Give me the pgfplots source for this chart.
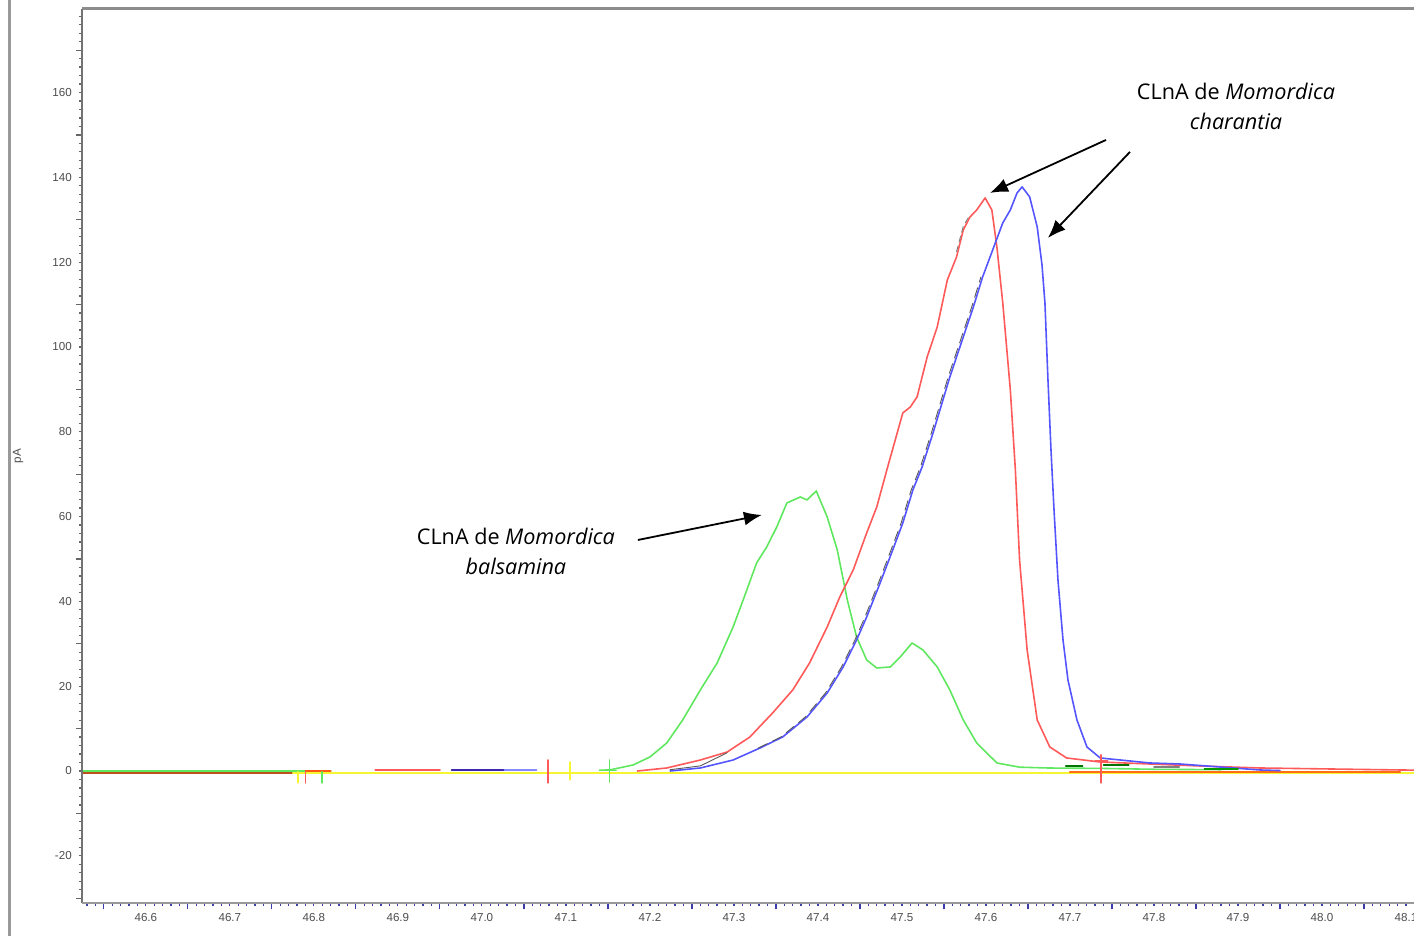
\documentclass[border=0pt]{standalone}
\usepackage{fontspec}
\setmainfont{Open Sans}
\newfontfamily\tickfont{Liberation Sans}
\usepackage{pgfplots}
\pgfplotsset{compat=1.18}
\usetikzlibrary{arrows.meta}
\definecolor{cgreen}{RGB}{95,232,95}
\definecolor{cred}{RGB}{255,90,90}
\definecolor{cblue}{RGB}{85,85,255}
\definecolor{cdblue}{RGB}{60,40,170}
\definecolor{cyellow}{RGB}{245,245,50}
\definecolor{corange}{RGB}{255,110,20}
\definecolor{cbrown}{RGB}{190,80,30}
\definecolor{tickblue}{RGB}{60,60,170}
\begin{document}
\begin{tikzpicture}
\begin{axis}[
 scale only axis, width=666pt, height=447pt,
 xmin=46.524, xmax=48.1095, ymin=-31.13, ymax=179.7,
 axis line style={draw=none},
 clip mode=individual,
 no markers,
 every axis plot/.append style={line join=round, line cap=round},
 tick align=outside,
 xtick pos=lower, ytick pos=left,
 xtick={46.6,46.7,46.8,46.9,47.0,47.1,47.2,47.3,47.4,47.5,47.6,47.7,47.8,47.9,48.0,48.1},
 ytick={-20,0,20,40,60,80,100,120,140,160},
 minor xtick={46.53,46.54,...,48.11},
 minor ytick={-30,-28,...,178},
 extra x ticks={46.55,46.65,46.75,46.85,46.95,47.05,47.15,47.25,47.35,47.45,47.55,47.65,47.75,47.85,47.95,48.05},
 extra x tick labels={},
 extra y ticks={-30,-10,10,30,50,70,90,110,130,150,170},
 extra y tick labels={},
 extra x tick style={major tick length=3.2pt},
 extra y tick style={major tick length=3.2pt},
 major tick length=1.6pt, minor tick length=1.6pt,
 x tick style={tickblue, line width=0.6pt},
 y tick style={black!60, line width=0.6pt},
 xticklabel style={/pgf/number format/.cd, fixed, fixed zerofill, precision=1},
 ticklabel style={font=\tickfont\fontsize{5.8}{6}\selectfont, text=black!70},
 /pgf/number format/assume math mode=true,
]
% baselines
\addplot[cbrown, line width=0.9pt] coordinates {(46.524,-0.5) (46.82,-0.5)};
\addplot[cgreen, line width=0.9pt] coordinates {(46.524,0.05) (46.82,0.05)};
\addplot[corange!80!red, line width=0.9pt] coordinates {(46.79,0.0) (46.82,0.0)};
\addplot[cyellow, line width=0.9pt] coordinates {(46.775,-0.4) (48.1095,-0.4)};
\addplot[corange, line width=1pt] coordinates {(47.70,-0.3) (48.093,-0.3)};
\addplot[cred, line width=0.9pt] coordinates {(46.873,0.3) (46.950,0.3)};
\addplot[cdblue, line width=0.9pt] coordinates {(46.964,0.3) (47.027,0.3)};
\addplot[cblue!70, line width=0.9pt] coordinates {(47.027,0.2) (47.065,0.2)};
% integration markers
\addplot[cyellow, line width=0.8pt] coordinates {(46.781,-0.2) (46.781,-2.8)};
\addplot[cred, line width=0.8pt] coordinates {(46.790,-0.2) (46.790,-2.8)};
\addplot[cgreen, line width=0.8pt] coordinates {(46.810,-0.2) (46.810,-2.8)};
\addplot[cred, line width=0.8pt] coordinates {(47.0786,2.6) (47.0786,-2.8)};
\addplot[cyellow, line width=0.8pt] coordinates {(47.105,2.1) (47.105,-2.1)};
\addplot[cgreen, line width=0.8pt] coordinates {(47.152,2.6) (47.152,-2.6)};
\addplot[cgreen, line width=0.8pt] coordinates {(47.140,0.1) (47.160,0.1)};
% green: M. balsamina
\addplot[cgreen, line width=0.8pt] coordinates {
(47.140,0.2) (47.152,0.24) (47.180,1.42) (47.200,3.30) (47.220,6.60) (47.239,12.03)
(47.260,19.10) (47.280,25.47) (47.299,33.96) (47.311,40.33) (47.327,49.06) (47.339,52.83)
(47.351,57.55) (47.363,63.21) (47.379,64.62) (47.387,63.92) (47.398,66.04) (47.411,59.91)
(47.423,52.12) (47.435,40.33) (47.446,31.60) (47.458,26.18) (47.470,24.29) (47.486,24.53)
(47.498,26.89) (47.512,30.19) (47.525,28.54) (47.542,24.53) (47.557,19.10) (47.573,12.03)
(47.589,6.60) (47.613,1.89) (47.640,0.9) (47.676,0.7) (47.74,0.6) (47.80,0.4) (47.88,0.3)};
% red
\addplot[cred, line width=0.8pt] coordinates {
(47.185,0) (47.220,0.71) (47.260,2.59) (47.292,4.48) (47.319,8.02) (47.346,13.68)
(47.370,19.10) (47.390,25.47) (47.411,33.96) (47.426,41.04) (47.442,47.41) (47.458,56.13)
(47.470,62.26) (47.482,70.99) (47.501,84.43) (47.510,85.85) (47.518,88.21) (47.530,97.64)
(47.542,104.72) (47.554,115.80) (47.565,121.23) (47.573,127.59) (47.581,130.66) (47.589,132.31)
(47.599,135.14) (47.607,132.31) (47.613,123.58) (47.620,110.38) (47.629,89.86) (47.635,70.99)
(47.640,49.76) (47.649,28.54) (47.661,12.03) (47.676,5.66) (47.696,3.07) (47.736,2.12)
(47.795,1.65) (47.855,1.18) (47.926,0.71) (48.093,0.24) (48.11,0.2)};
% blue
\addplot[cblue, line width=0.8pt] coordinates {
(47.224,0) (47.260,0.71) (47.299,2.59) (47.331,5.42) (47.358,8.02) (47.387,12.74)
(47.411,18.40) (47.430,24.53) (47.446,30.90) (47.458,36.32) (47.474,44.34) (47.489,52.12)
(47.501,58.49) (47.513,66.27) (47.524,71.70) (47.537,79.72) (47.557,92.92) (47.569,100.0)
(47.585,109.43) (47.596,116.51) (47.608,122.88) (47.620,129.25) (47.629,132.31) (47.637,136.32)
(47.643,137.74) (47.652,135.38) (47.661,128.30) (47.6667,119.34) (47.6702,110.38) (47.6738,92.22)
(47.6774,75.71) (47.681,61.56) (47.6857,45.05) (47.6917,30.90) (47.6976,21.46) (47.7083,12.03)
(47.7202,5.66) (47.736,3.07) (47.795,1.89) (47.831,1.65) (47.879,0.94) (47.926,0.24) (47.95,0.1)};
% dark integration overlays
\addplot[black!65, line width=0.45pt, dash pattern=on 5pt off 3pt] coordinates {
(47.329,5.42) (47.356,8.02) (47.385,12.74) (47.409,18.40) (47.428,24.53) (47.444,30.90)
(47.456,36.32) (47.472,44.34) (47.487,52.12) (47.499,58.49) (47.511,66.27) (47.522,71.70)
(47.535,79.72) (47.555,92.92) (47.567,100.0) (47.583,109.43) (47.594,116.51)};
\addplot[black!65, line width=0.45pt] coordinates {(47.224,0.3) (47.260,1.2) (47.292,4.3)};
\addplot[black!50, line width=0.45pt, dash pattern=on 3pt off 2pt] coordinates {(47.565,122.5) (47.573,128.5) (47.579,130.5)};
\addplot[cred, line width=0.8pt] coordinates {(47.737,3.8) (47.737,-2.8)};
\addplot[cred, line width=0.8pt] coordinates {(47.730,2.3) (47.745,2.3)};
\addplot[green!45!black, line width=0.8pt] coordinates {(47.695,1.2) (47.715,1.2)};
\addplot[green!45!black, line width=0.8pt] coordinates {(47.74,1.4) (47.77,1.4)};
\addplot[black!50, line width=0.8pt] coordinates {(47.80,0.9) (47.83,0.9)};
\addplot[green!60!black, line width=0.8pt] coordinates {(47.86,0.4) (47.90,0.4)};
% frame
\draw[black!45, line width=1.5pt] (rel axis cs:0,1) -- (rel axis cs:1,1);
\draw[black!55, line width=1pt] (rel axis cs:0,0) -- (rel axis cs:0,1);
\draw[black!40, line width=1pt] (rel axis cs:0,0) -- (rel axis cs:1,0);
% annotations
\draw[-{Latex[length=9pt,width=7pt]}, line width=0.9pt] (axis cs:47.1857,54.48) -- (axis cs:47.3333,60.38);
\draw[-{Latex[length=9pt,width=7pt]}, line width=0.9pt] (axis cs:47.7429,148.82) -- (axis cs:47.6048,136.32);
\draw[-{Latex[length=9pt,width=7pt]}, line width=0.9pt] (axis cs:47.7714,145.99) -- (axis cs:47.6738,125.71);
\node[align=center, font=\fontsize{10.8}{15}\selectfont] at (axis cs:47.8976,156.7) {CLnA de \textit{Momordica}\\\textit{charantia}};
\node[align=center, font=\fontsize{10.8}{15}\selectfont] at (axis cs:47.0405,51.89) {CLnA de \textit{Momordica}\\\textit{balsamina}};
\end{axis}
\draw[black!40, line width=1.5pt] ([xshift=-36pt,yshift=8pt]current axis.north west) -- ([xshift=-36pt,yshift=-20pt]current axis.south west);
\node[rotate=90, font=\tickfont\fontsize{5.8}{6}\selectfont, text=black!70] at ([xshift=-32pt]current axis.west) {pA};
\pgfresetboundingbox
\path[use as bounding box] ([xshift=-41pt,yshift=-16.5pt]current axis.south west) rectangle ([yshift=4.5pt]current axis.north east);
\end{tikzpicture}
\end{document}
